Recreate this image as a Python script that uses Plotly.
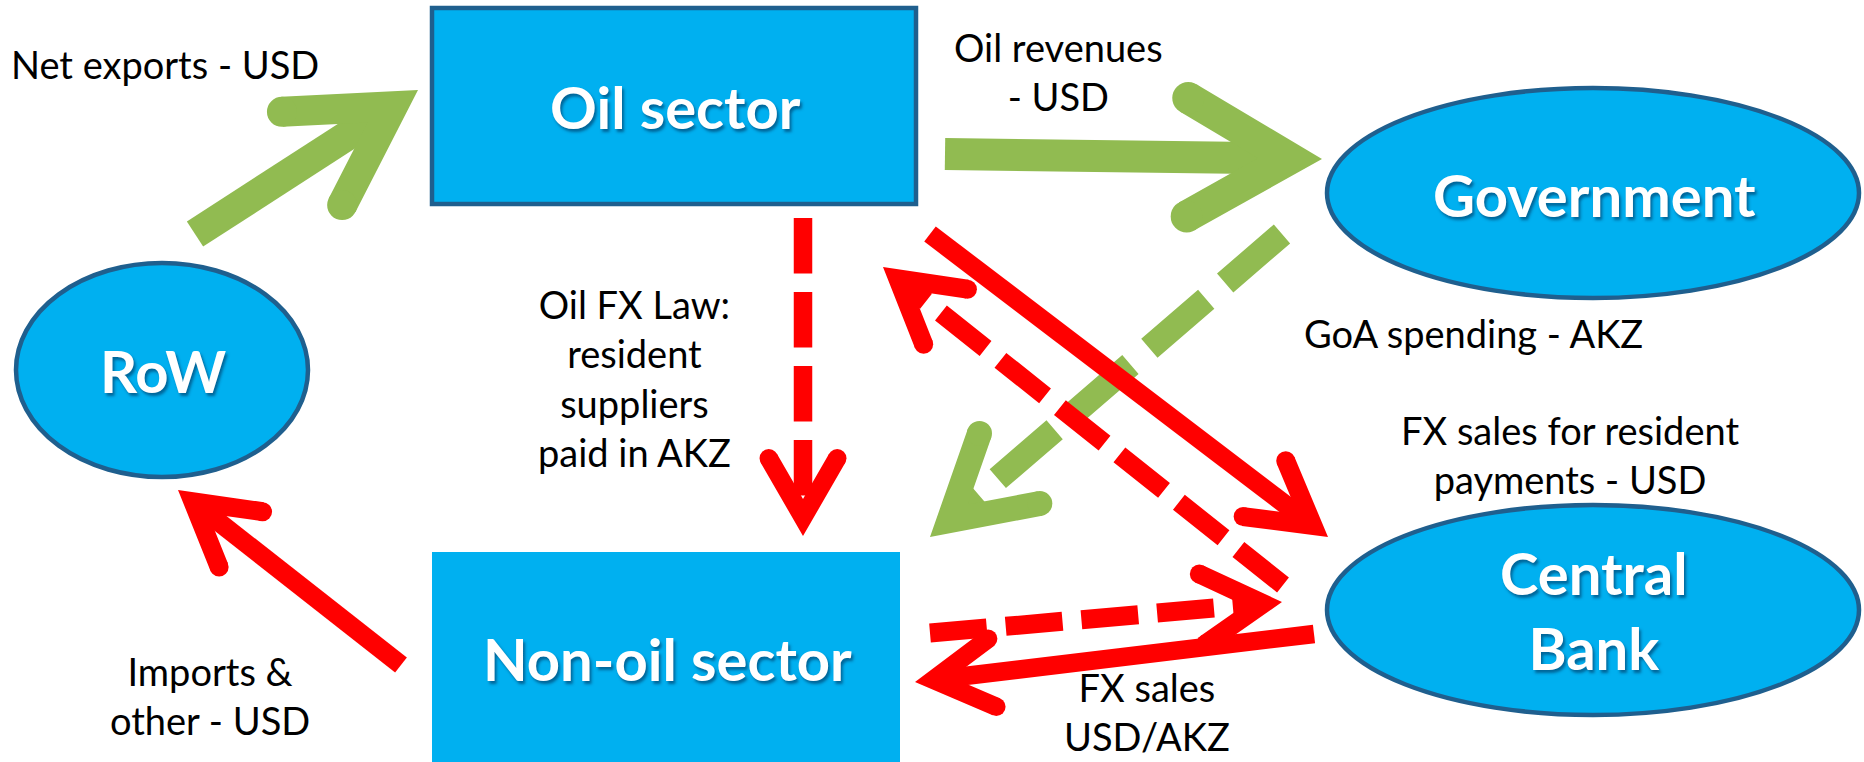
import math
import plotly.graph_objects as go

W, H = 1864, 762

# ---------------- data ----------------
node_names = ["Oil sector", "Non-oil sector", "Government", "Central<br>Bank", "RoW"]
node_kinds = ["rect", "rect", "ellipse", "ellipse", "ellipse"]
node_outlined = [True, False, True, True, True]

flow_names = ["Net exports", "Oil revenues", "Oil FX Law", "GoA spending",
              "FX sales for resident payments", "Resident payments (AKZ)",
              "FX purchases", "FX sales", "Imports & other"]
flow_colour = ["green", "green", "red", "green", "red", "red", "red", "red", "red"]
flow_style = ["solid", "solid", "dash", "dash", "solid", "dash", "dash", "solid", "solid"]

label_texts = ["Net exports - USD", "Oil revenues<br>- USD",
               "Oil FX Law:<br>resident<br>suppliers<br>paid in AKZ",
               "GoA spending - AKZ", "FX sales for resident<br>payments - USD",
               "Imports &<br>other - USD", "FX sales<br>USD/AKZ"]

# ---------------- layout geometry (pixels) ----------------
node_boxes = [(432, 8, 916, 204), (432, 552, 900, 780), (1327, 88, 1859, 298),
              (1327, 505, 1859, 715), (16, 263, 308, 477)]
node_label_pos = [(675, 106), (667, 658), (1594, 194), (1594, 610), (163, 370)]

flow_tail = [(195, 234), (945, 154), (803, 218), (1282, 234), (930, 234),
             (1283, 585), (930, 633), (1314, 634), (401, 665)]
flow_tip = [(418, 90), (1322, 159), (803, 536), (930, 537), (1328, 537),
            (883, 267), (1282, 602), (915, 682), (178, 490)]
flow_width = [30, 32, 18.5, 25, 19, 19, 19, 18.5, 19]

label_pos = [(9, 64, "left"), (1058, 71, "center"), (634, 378, "center"),
             (1473, 333, "center"), (1570, 454, "center"), (210, 695, "center"),
             (1147, 711, "center")]

COL = {"green": "#91BB51", "red": "#FF0000"}
FILL = "#00B0F0"
EDGE = "#1F5F8E"

fig = go.Figure()
fig.add_trace(go.Scatter(
    x=[(b[0] + b[2]) / 2 for b in node_boxes],
    y=[(b[1] + b[3]) / 2 for b in node_boxes],
    mode="markers", marker=dict(size=1, opacity=0), hoverinfo="skip", showlegend=False))

shapes = []
# nodes
for kind, box, outl in zip(node_kinds, node_boxes, node_outlined):
    shapes.append(dict(type="rect" if kind == "rect" else "circle",
                       xref="x", yref="y", x0=box[0], y0=box[1], x1=box[2], y1=box[3],
                       fillcolor=FILL,
                       line=dict(color=EDGE if outl else FILL, width=4.5 if outl else 0),
                       layer="below"))


def arrow_shapes(tail, tip, w, colour, style):
    out = []
    dx, dy = tip[0] - tail[0], tip[1] - tail[1]
    n = math.hypot(dx, dy)
    ux, uy = dx / n, dy / n
    theta = math.radians(30)
    L = 3.7 * w
    # centre-line apex so that mitred outer tip lands on `tip`
    ax, ay = tip[0] - ux * (w / 2) / math.sin(theta), tip[1] - uy * (w / 2) / math.sin(theta)
    ends = []
    for s in (1, -1):
        c, si = math.cos(s * theta), math.sin(s * theta)
        bx, by = -ux, -uy
        rx, ry = bx * c - by * si, bx * si + by * c
        ends.append((ax + L * rx, ay + L * ry))
    dash = "solid" if style == "solid" else f"{3 * w}px,{w}px"
    out.append(dict(type="line", xref="x", yref="y", x0=tail[0], y0=tail[1], x1=ax, y1=ay,
                    line=dict(color=colour, width=w, dash=dash)))
    path = f"M{ends[0][0]:.2f},{ends[0][1]:.2f} L{ax:.2f},{ay:.2f} L{ends[1][0]:.2f},{ends[1][1]:.2f}"
    out.append(dict(type="path", xref="x", yref="y", path=path,
                    fillcolor="rgba(0,0,0,0)", line=dict(color=colour, width=w)))
    r = w / 2
    for ex, ey in ends:
        out.append(dict(type="circle", xref="x", yref="y", x0=ex - r, y0=ey - r,
                        x1=ex + r, y1=ey + r, fillcolor=colour, line=dict(width=0)))
    return out


order = [i for i in range(len(flow_names)) if flow_colour[i] == "green"] + \
        [i for i in range(len(flow_names)) if flow_colour[i] == "red"]
for i in order:
    shapes += arrow_shapes(flow_tail[i], flow_tip[i], flow_width[i],
                           COL[flow_colour[i]], flow_style[i])

annotations = []
for name, (x, y) in zip(node_names, node_label_pos):
    annotations.append(dict(x=x, y=y, xref="x", yref="y", text=name, showarrow=False,
                            xanchor="center", yanchor="middle", align="center",
                            font=dict(family="Lato", size=58, color="white", weight=700,
                                      shadow="2px 3px 3px rgba(0,40,80,0.55)")))
for txt, (x, y, anc) in zip(label_texts, label_pos):
    annotations.append(dict(x=x, y=y, xref="x", yref="y", text=txt, showarrow=False,
                            xanchor=anc, yanchor="middle", align="center",
                            font=dict(family="Lato", size=38, color="black")))

fig.update_layout(
    width=W, height=H, margin=dict(l=0, r=0, t=0, b=0),
    paper_bgcolor="white", plot_bgcolor="white",
    xaxis=dict(range=[0, W], visible=False, fixedrange=True),
    yaxis=dict(range=[H, 0], visible=False, fixedrange=True),
    shapes=shapes, annotations=annotations, showlegend=False)

fig.write_html("out.html", config={"displayModeBar": False},
               post_script="document.body.style.margin='0';document.body.style.overflow='hidden';")
